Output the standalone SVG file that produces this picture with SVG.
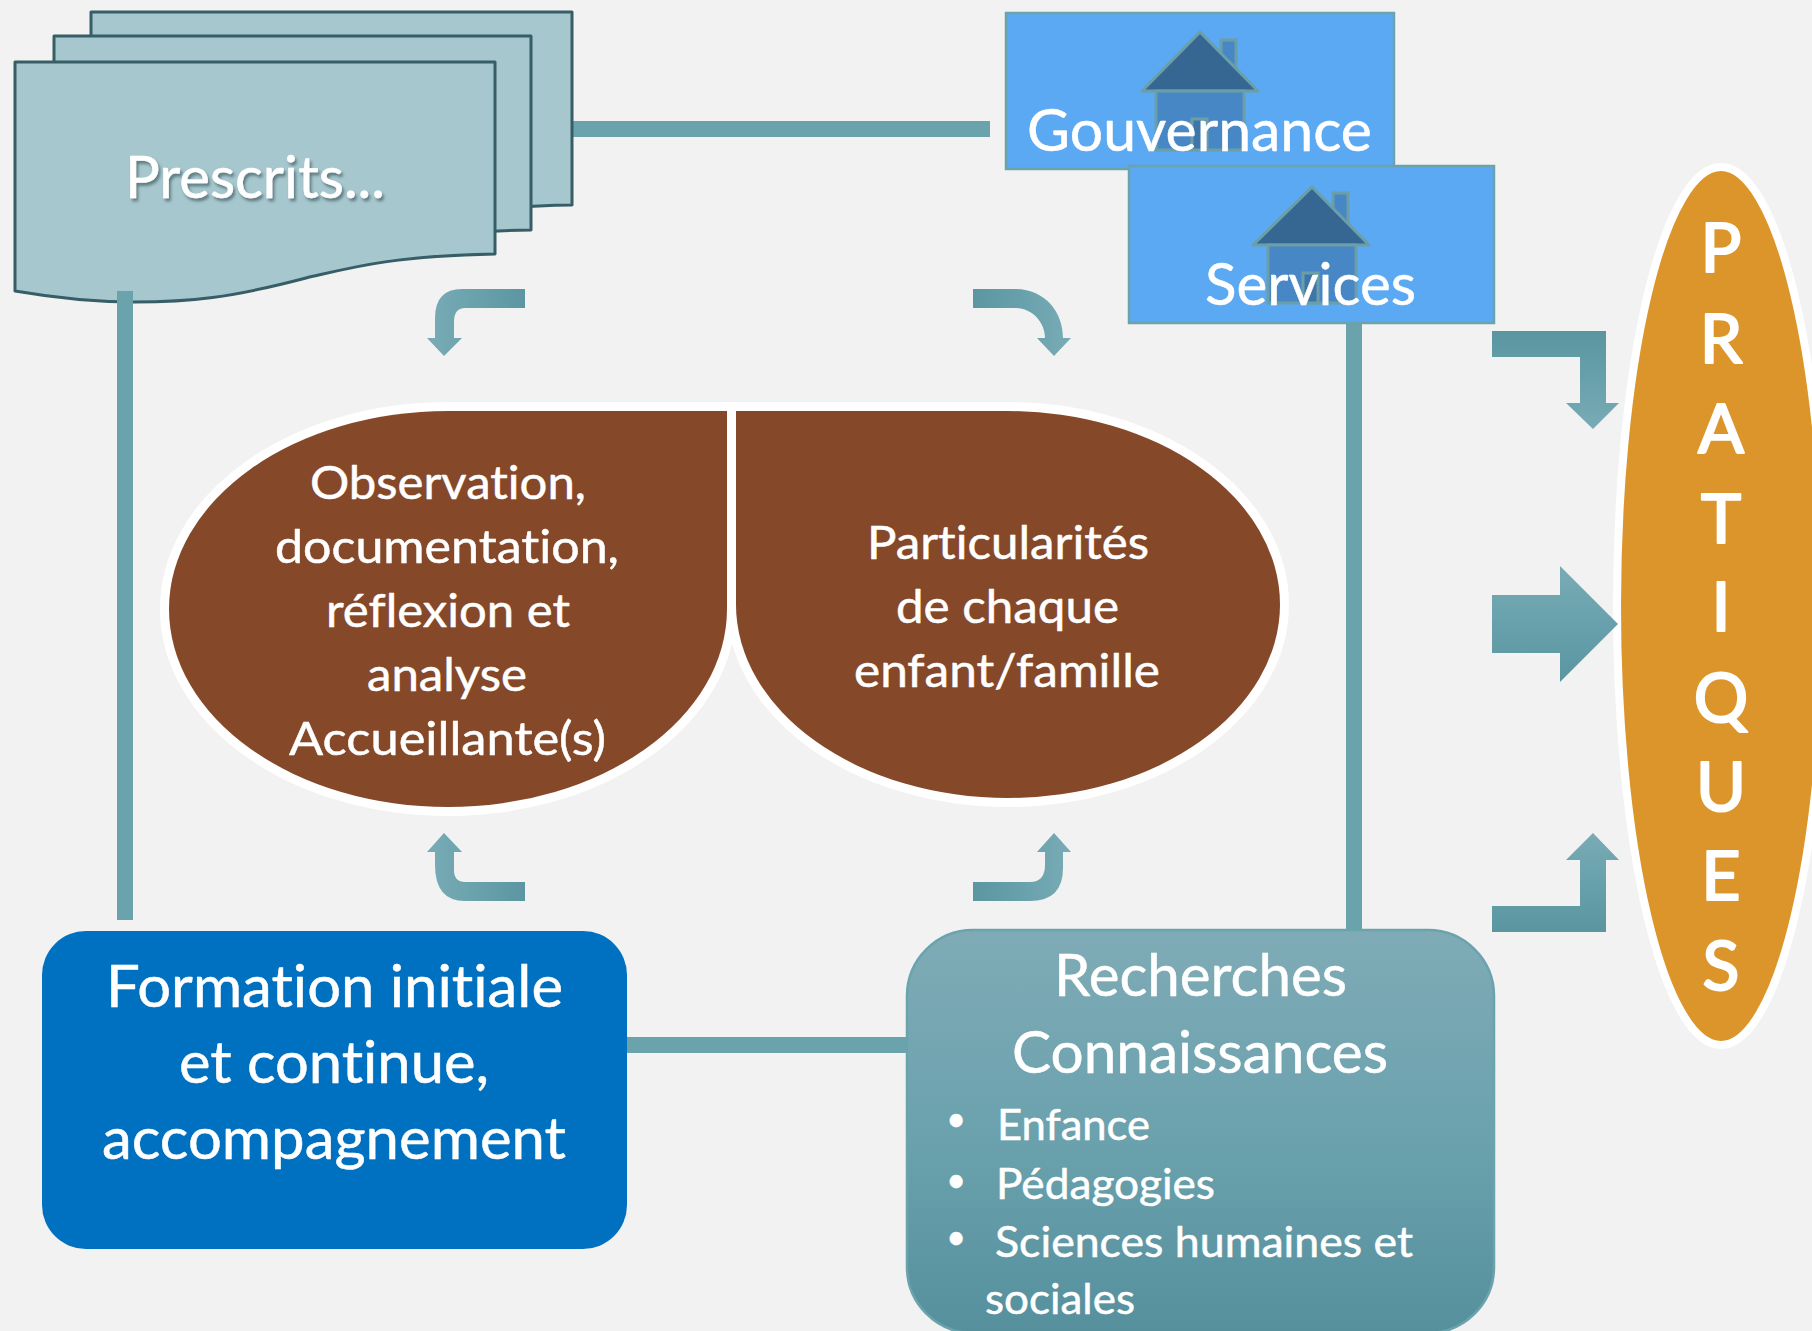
<svg xmlns="http://www.w3.org/2000/svg" width="1812" height="1331" viewBox="0 0 1812 1331">
<style>
text{font-family:"Lato","Liberation Sans",sans-serif;fill:#fff;stroke:#fff;stroke-width:.5;stroke-linejoin:round;text-anchor:middle;font-variant-ligatures:none}
.m{font-size:46px}.l{font-size:58px}.s{font-size:42px}.p{font-size:68px;stroke-width:2.2}.d{font-size:34px}
.b{text-anchor:start}
.doc{fill:#A7C7CE;stroke:#375E66;stroke-width:3;stroke-linejoin:round}
.box{fill:#5BA9F3;stroke:#6BA3AD;stroke-width:2.5}
.roof{fill:#366793;stroke:#6A9FA8;stroke-width:3;stroke-linejoin:round}
.body{fill:#4887C5;stroke:#6A9FA8;stroke-width:3}
.door{fill:#366793;fill-opacity:.55;stroke:#6A9FA8;stroke-width:3}
.bean{fill:#854829;stroke:#fff;stroke-width:18;paint-order:stroke}
.bar{fill:#6BA3AD}
</style>
<defs>
<linearGradient id="gl" x1="0" x2="1" y1="0" y2="0"><stop offset="0" stop-color="#79ABB5"/><stop offset="0.45" stop-color="#6BA3AD"/><stop offset="1" stop-color="#5B96A1"/></linearGradient>
<linearGradient id="gr" x1="0" x2="1" y1="0" y2="0"><stop offset="0" stop-color="#5B96A1"/><stop offset="0.5" stop-color="#68A1AC"/><stop offset="1" stop-color="#79ABB5"/></linearGradient>
<linearGradient id="gd" x1="0" x2="0" y1="0" y2="1"><stop offset="0" stop-color="#79ABB5"/><stop offset="0.5" stop-color="#68A1AC"/><stop offset="1" stop-color="#5A95A0"/></linearGradient>
<linearGradient id="gu" x1="0" x2="0" y1="0" y2="1"><stop offset="0" stop-color="#5A95A0"/><stop offset="0.5" stop-color="#68A1AC"/><stop offset="1" stop-color="#79ABB5"/></linearGradient>
<linearGradient id="gb" x1="0" x2="0" y1="0" y2="1"><stop offset="0" stop-color="#7FABB6"/><stop offset="0.5" stop-color="#6BA2AE"/><stop offset="1" stop-color="#56909D"/></linearGradient>
<filter id="sh" x="-10%" y="-20%" width="120%" height="150%"><feDropShadow dx="2" dy="3" stdDeviation="1.5" flood-color="#2f4a50" flood-opacity=".6"/></filter>
</defs>
<rect width="1812" height="1331" fill="#F2F2F2"/>

<g id="pratiques">
<ellipse cx="1721" cy="606" rx="104" ry="439" fill="#DC952A" stroke="#fff" stroke-width="8"/>
<text class="p" x="1721" y="272">P</text>
<text class="p" x="1721" y="363">R</text>
<text class="p" x="1721" y="453">A</text>
<text class="p" x="1721" y="543">T</text>
<text class="p" x="1721" y="631">I</text>
<text class="p" x="1721" y="722">Q</text>
<text class="p" x="1721" y="811">U</text>
<text class="p" x="1721" y="900">E</text>
<text class="p" x="1721" y="990">S</text>
</g>

<g id="connectors">
<rect class="bar" x="572" y="121" width="418" height="16"/>
<rect class="bar" x="117" y="291" width="16" height="629"/>
<rect class="bar" x="1346" y="323" width="16" height="607"/>
<rect class="bar" x="627" y="1037" width="280" height="16"/>
<path fill="url(#gl)" d="M525 289H462Q435 289 435 318V338H427L444 356L462 338H454V322Q454 308 465 308H525Z"/>
<path fill="url(#gr)" d="M973 289H1015C1045 289 1063 312 1063 338H1071L1054 356L1037 338H1045C1045 322 1032 308 1015 308H973Z"/>
<path fill="url(#gl)" d="M444 833L462 852H454V870Q454 882 465 882H525V901H465Q435 901 435 865V852H427Z"/>
<path fill="url(#gr)" d="M1054 833L1071 852H1063V868Q1063 901 1030 901H973V882H1030Q1045 882 1045 865V852H1037Z"/>
<path fill="url(#gu)" d="M1492 331H1606V403H1619L1593 429L1566 403H1580V357H1492Z"/>
<path fill="url(#gd)" d="M1492 595H1560V566L1618 624L1560 682V653H1492Z"/>
<path fill="url(#gd)" d="M1593 833L1619 860H1606V932H1492V906H1580V860H1566Z"/>
</g>

<g id="prescrits">
<path class="doc" d="M91 12H572V205C500 206 460 212 400 222H91Z"/>
<path class="doc" d="M54 36H531V230C460 231 420 238 360 248H54Z"/>
<path class="doc" d="M15 62H495V254C390 256 350 268 306 278C230 298 190 302 134 302C90 302 50 297 15 291Z"/>
<rect class="bar" x="117" y="291" width="16" height="14"/>
<text class="l" x="255" y="198" textLength="260" lengthAdjust="spacingAndGlyphs" filter="url(#sh)">Prescrits...</text>
</g>

<g id="gouvernance">
<rect class="box" x="1006" y="13" width="388" height="156"/>
<rect class="body" x="1221" y="40" width="15" height="40"/>
<path class="roof" d="M1200 32L1258 91H1142Z"/>
<rect class="body" x="1156" y="91" width="88" height="59"/>
<rect class="door" x="1192" y="119" width="15" height="31"/>
<text class="l" x="1199.500" y="151" textLength="345" lengthAdjust="spacingAndGlyphs">Gouvernance</text>
</g>

<g id="services">
<rect class="box" x="1129" y="166" width="365" height="157"/>
<rect class="body" x="1333" y="193" width="15" height="40"/>
<path class="roof" d="M1312 187L1369 245H1253Z"/>
<rect class="body" x="1268" y="245" width="88" height="58"/>
<rect class="door" x="1303" y="273" width="15" height="30"/>
<text class="l" x="1310.500" y="305" textLength="211" lengthAdjust="spacingAndGlyphs">Services</text>
</g>

<g id="observation">
<path class="bean" d="M727 411V609A279 198 0 0 1 169 609A279 198 0 0 1 448 411Z"/>
<text class="m" x="448" y="499" textLength="276" lengthAdjust="spacingAndGlyphs">Observation,</text>
<text class="m" x="447" y="563" textLength="344" lengthAdjust="spacingAndGlyphs">documentation,</text>
<text class="m" x="448" y="627" textLength="244" lengthAdjust="spacingAndGlyphs">réflexion et</text>
<text class="m" x="447" y="691" textLength="160" lengthAdjust="spacingAndGlyphs">analyse</text>
<text class="m" x="447.500" y="755" textLength="317" lengthAdjust="spacingAndGlyphs">Accueillante(s)</text>
</g>

<g id="particularites">
<path class="bean" d="M736 411H1008A272 193.500 0 0 1 1008 798A272 193.500 0 0 1 736 604.500Z"/>
<text class="m" x="1008" y="559" textLength="282" lengthAdjust="spacingAndGlyphs">Particularités</text>
<text class="m" x="1007.500" y="623" textLength="223" lengthAdjust="spacingAndGlyphs">de chaque</text>
<text class="m" x="1007" y="687" textLength="306" lengthAdjust="spacingAndGlyphs">enfant/famille</text>
</g>

<g id="formation">
<rect x="42" y="931" width="585" height="318" rx="44" fill="#0070C0"/>
<text class="l" x="334.500" y="1007" textLength="457" lengthAdjust="spacingAndGlyphs">Formation initiale</text>
<text class="l" x="334" y="1083" textLength="310" lengthAdjust="spacingAndGlyphs">et continue,</text>
<text class="l" x="334" y="1159" textLength="464" lengthAdjust="spacingAndGlyphs">accompagnement</text>
</g>

<g id="recherches">
<rect x="907" y="930" width="587" height="403" rx="66" fill="url(#gb)" stroke="#6BA3AD" stroke-width="2.500"/>
<text class="l" x="1200.500" y="996" textLength="293" lengthAdjust="spacingAndGlyphs">Recherches</text>
<text class="l" x="1200" y="1073" textLength="376" lengthAdjust="spacingAndGlyphs">Connaissances</text>
<text class="d" x="956" y="1131">•</text>
<text class="d" x="956" y="1192">•</text>
<text class="d" x="956" y="1249">•</text>
<text class="s b" x="997" y="1140" textLength="153" lengthAdjust="spacingAndGlyphs">Enfance</text>
<text class="s b" x="996" y="1199" textLength="219" lengthAdjust="spacingAndGlyphs">Pédagogies</text>
<text class="s b" x="995" y="1257" textLength="418" lengthAdjust="spacingAndGlyphs">Sciences humaines et</text>
<text class="s b" x="985" y="1314" textLength="150" lengthAdjust="spacingAndGlyphs">sociales</text>
</g>
</svg>
